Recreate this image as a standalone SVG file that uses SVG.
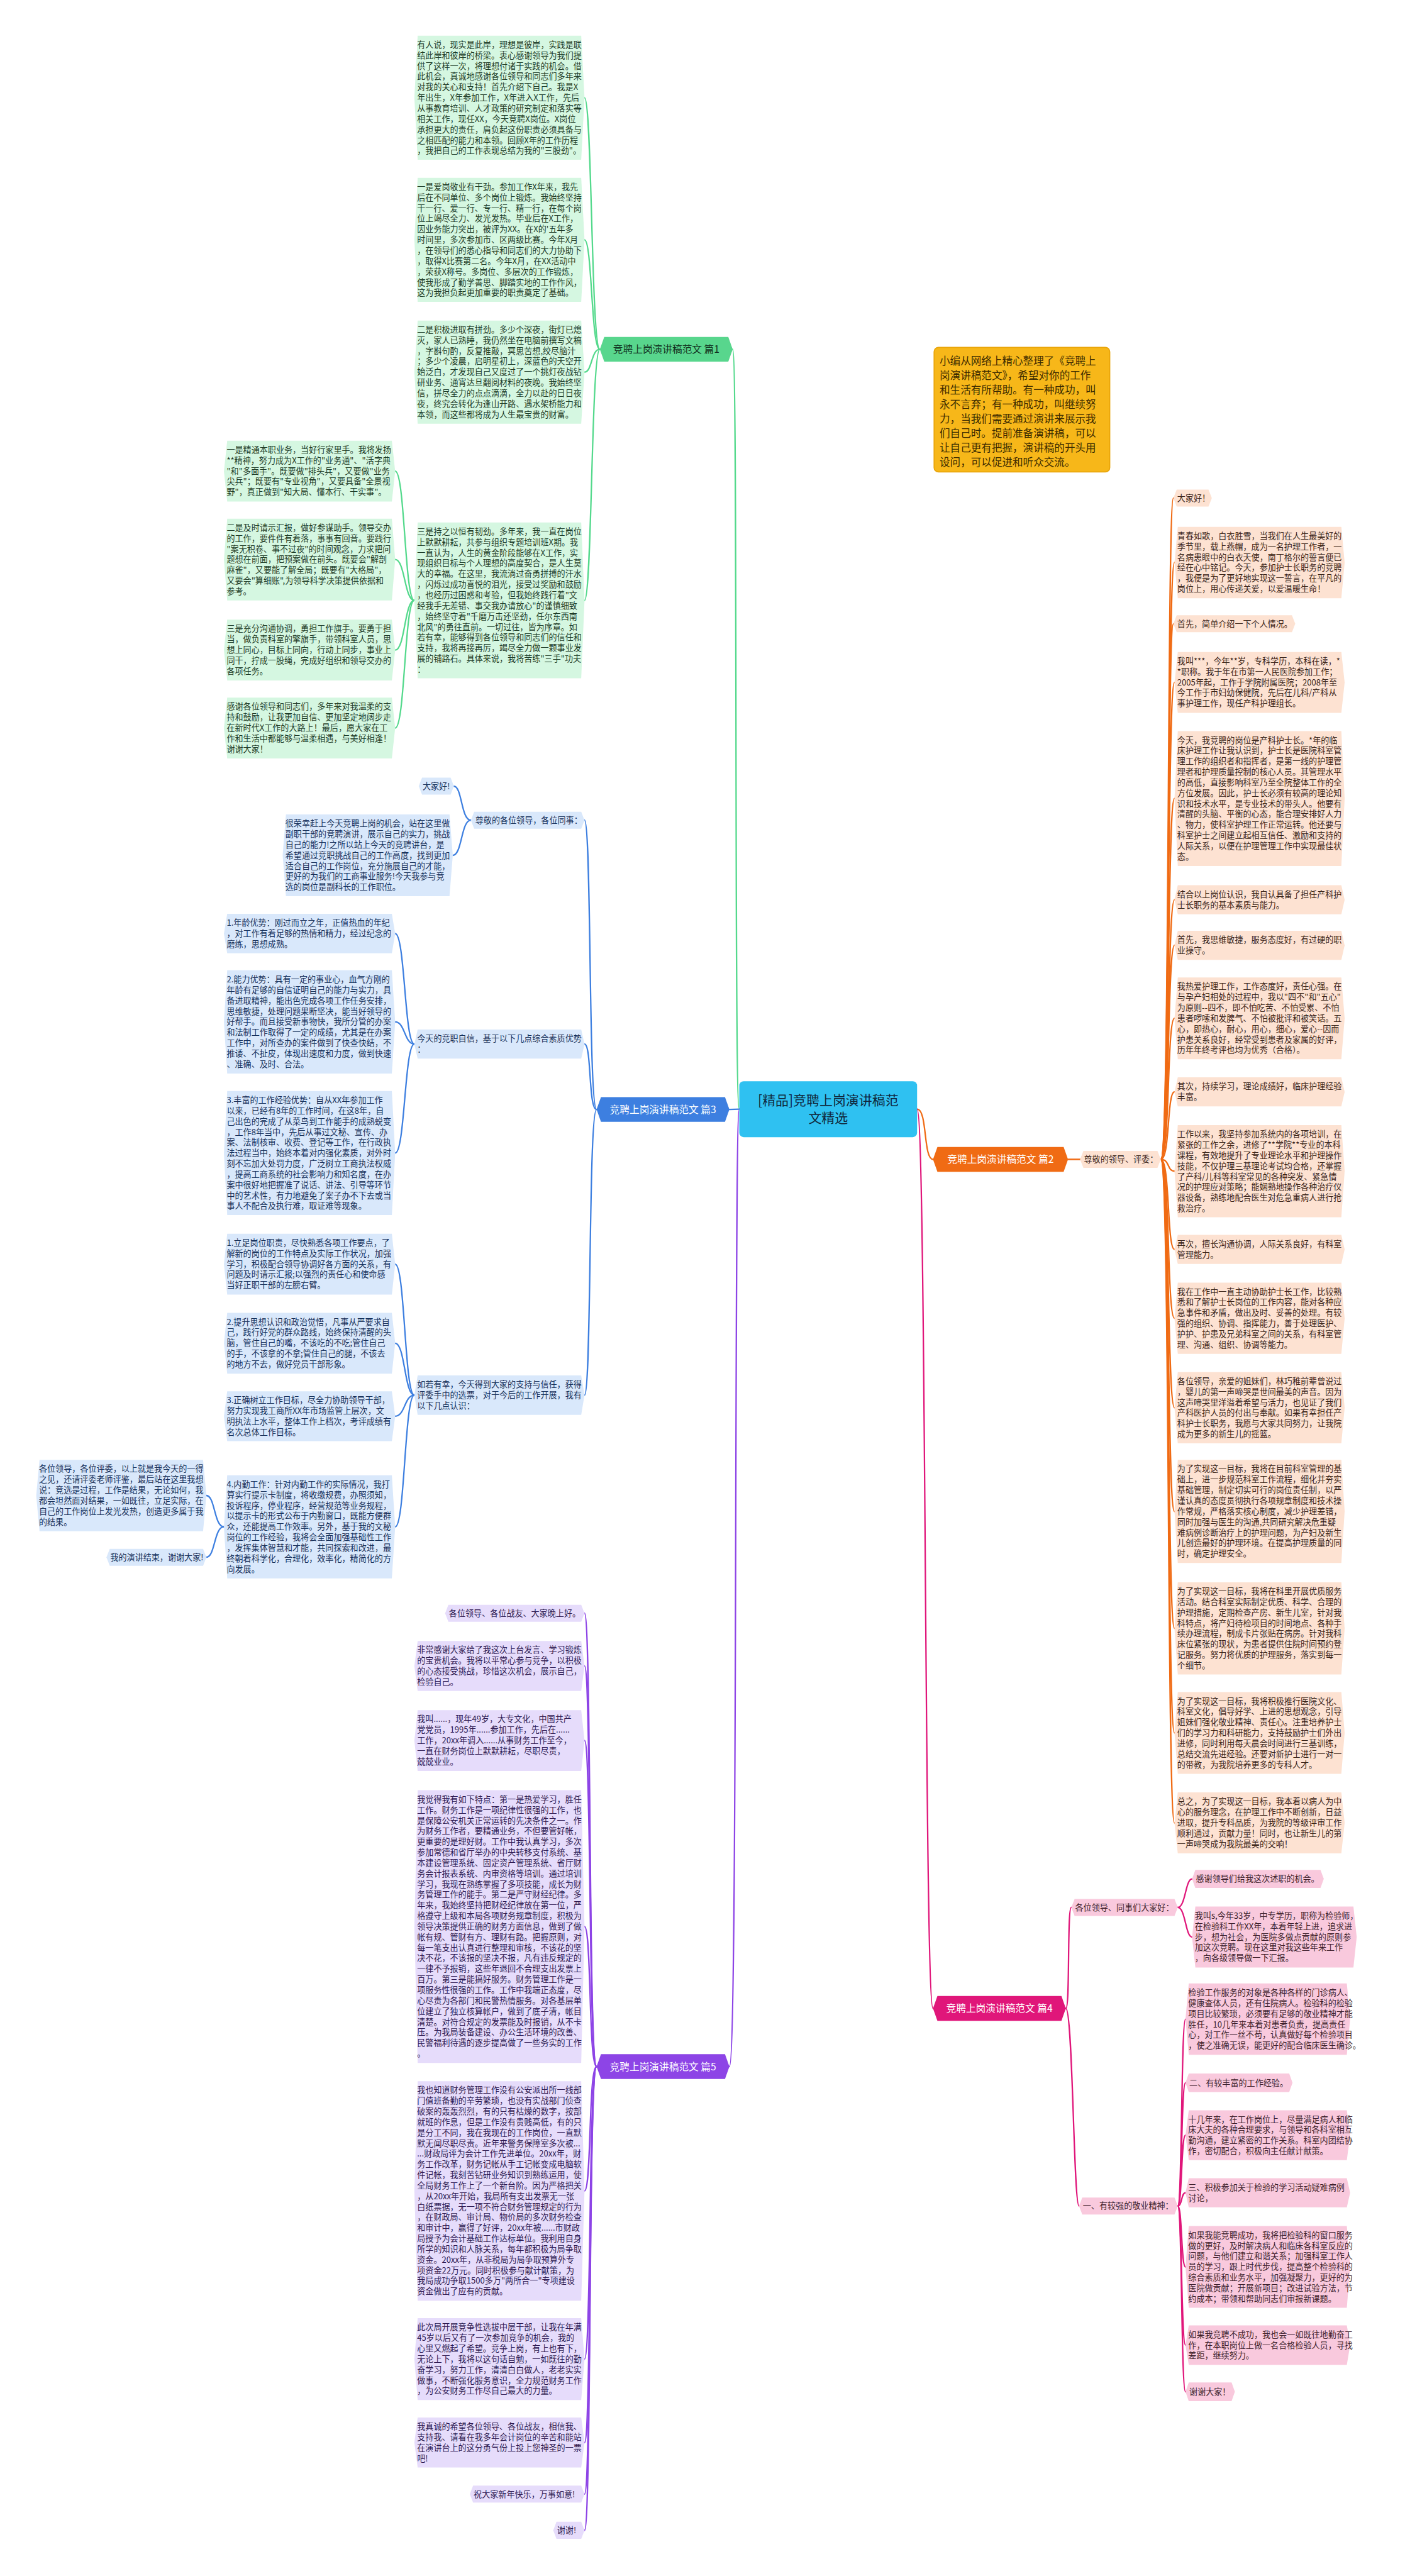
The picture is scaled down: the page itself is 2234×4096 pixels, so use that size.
<svg xmlns="http://www.w3.org/2000/svg" width="2234" height="4096" viewBox="0 0 2234 4096">
<style>
text{font-family:"Noto Sans CJK SC","Noto Sans",sans-serif;font-size:15px}
.tg{fill:#1d3b27}.tb{fill:#16305a}.tp{fill:#2e1a52}.to{fill:#3a2418}.tk{fill:#3d1f2c}
.ng{fill:#d5f7e1}.nb{fill:#d9e8fb}.np{fill:#e6dcfb}.no{fill:#fde2d2}.nk{fill:#f9c9dd}
.e{fill:none;stroke-width:2.6;stroke-linecap:round}
.eg{stroke:#54d98c}.eb{stroke:#3d7fe0}.ep{stroke:#8d44e6}.eo{stroke:#f06b14}.ek{stroke:#e0167a}
.br{font-size:18px;text-anchor:middle}
</style>
<rect x="0" y="0" width="2234" height="4096" fill="#ffffff"/>
<g transform="scale(0.87266)">
<g id="connectors">
<path class="e eg" d="M1347,2021 C1337,2021 1345,636.5 1335,636.5"/>
<path class="e eg" d="M1093,636.5 C1077,636.5 1079,178 1065,178"/>
<path class="e eg" d="M1093,636.5 C1077,636.5 1079,437 1065,437"/>
<path class="e eg" d="M1093,636.5 C1077,636.5 1079,678 1065,678"/>
<path class="e eg" d="M1093,636.5 C1077,636.5 1079,1094 1065,1094"/>
<path class="e eg" d="M755,1094 C737,1094 738,858.5 720,858.5"/>
<path class="e eg" d="M755,1094 C737,1094 738,1019.5 720,1019.5"/>
<path class="e eg" d="M755,1094 C737,1094 738,1184.5 720,1184.5"/>
<path class="e eg" d="M755,1094 C737,1094 738,1326.5 720,1326.5"/>
<path class="e eb" d="M1347,2021 L1329,2021.5"/>
<path class="e eb" d="M1087,2021.5 C1072,2021.5 1078,1494.5 1065,1494.5"/>
<path class="e eb" d="M1087,2021.5 C1072,2021.5 1078,1902.5 1065,1902.5"/>
<path class="e eb" d="M1087,2021.5 C1072,2021.5 1078,2542 1065,2542"/>
<path class="e eb" d="M858,1494.5 C840,1494.5 842,1432.5 827,1432.5"/>
<path class="e eb" d="M858,1494.5 C840,1494.5 842,1558.5 825,1558.5"/>
<path class="e eb" d="M755,1902.5 C737,1902.5 738,1701 720,1701"/>
<path class="e eb" d="M755,1902.5 C737,1902.5 738,1862 720,1862"/>
<path class="e eb" d="M755,1902.5 C737,1902.5 738,2101 720,2101"/>
<path class="e eb" d="M755,2542 C737,2542 738,2303.5 720,2303.5"/>
<path class="e eb" d="M755,2542 C737,2542 738,2447.5 720,2447.5"/>
<path class="e eb" d="M755,2542 C737,2542 738,2580.5 720,2580.5"/>
<path class="e eb" d="M755,2542 C737,2542 738,2782 720,2782"/>
<path class="e eb" d="M408,2782 C390,2782 392,2725 376,2725"/>
<path class="e eb" d="M408,2782 C390,2782 392,2837.5 376,2837.5"/>
<path class="e ep" d="M1347,2021 C1337,2021 1345,3765.5 1329,3765.5"/>
<path class="e ep" d="M1087,3765.5 C1072,3765.5 1078,2939.5 1065,2939.5"/>
<path class="e ep" d="M1087,3765.5 C1072,3765.5 1078,3035.5 1065,3035.5"/>
<path class="e ep" d="M1087,3765.5 C1072,3765.5 1078,3171.5 1065,3171.5"/>
<path class="e ep" d="M1087,3765.5 C1072,3765.5 1078,3510.5 1065,3510.5"/>
<path class="e ep" d="M1087,3765.5 C1072,3765.5 1078,3992 1065,3992"/>
<path class="e ep" d="M1087,3765.5 C1072,3765.5 1078,4298.5 1065,4298.5"/>
<path class="e ep" d="M1087,3765.5 C1072,3765.5 1078,4450.5 1065,4450.5"/>
<path class="e ep" d="M1087,3765.5 C1072,3765.5 1078,4544.5 1065,4544.5"/>
<path class="e ep" d="M1087,3765.5 C1072,3765.5 1078,4610.5 1065,4610.5"/>
<path class="e eo" d="M1671,2021 C1690,2021 1682,2112.5 1700,2112.5"/>
<path class="e eo" d="M1946,2112.5 L1968,2112.5"/>
<path class="e eo" d="M2115,2112.5 C2132,2112.5 2126,907.5 2138,907.5"/>
<path class="e eo" d="M2115,2112.5 C2132,2112.5 2126,1025 2140,1025"/>
<path class="e eo" d="M2115,2112.5 C2132,2112.5 2126,1136.5 2138,1136.5"/>
<path class="e eo" d="M2115,2112.5 C2132,2112.5 2126,1243.5 2140,1243.5"/>
<path class="e eo" d="M2115,2112.5 C2132,2112.5 2126,1455 2140,1455"/>
<path class="e eo" d="M2115,2112.5 C2132,2112.5 2126,1639.5 2140,1639.5"/>
<path class="e eo" d="M2115,2112.5 C2132,2112.5 2126,1722.5 2140,1722.5"/>
<path class="e eo" d="M2115,2112.5 C2132,2112.5 2126,1855.5 2140,1855.5"/>
<path class="e eo" d="M2115,2112.5 C2132,2112.5 2126,1989.5 2140,1989.5"/>
<path class="e eo" d="M2115,2112.5 C2132,2112.5 2126,2134 2140,2134"/>
<path class="e eo" d="M2115,2112.5 C2132,2112.5 2126,2276.5 2140,2276.5"/>
<path class="e eo" d="M2115,2112.5 C2132,2112.5 2126,2402 2140,2402"/>
<path class="e eo" d="M2115,2112.5 C2132,2112.5 2126,2565 2140,2565"/>
<path class="e eo" d="M2115,2112.5 C2132,2112.5 2126,2754 2140,2754"/>
<path class="e eo" d="M2115,2112.5 C2132,2112.5 2126,2967 2140,2967"/>
<path class="e eo" d="M2115,2112.5 C2132,2112.5 2126,3157.5 2140,3157.5"/>
<path class="e eo" d="M2115,2112.5 C2132,2112.5 2126,3321.5 2140,3321.5"/>
<path class="e ek" d="M1671,2021 C1688,2021 1684,3659.5 1700,3659.5"/>
<path class="e ek" d="M1942,3659.5 C1950,3659.5 1944,3475.5 1952,3475.5"/>
<path class="e ek" d="M1942,3659.5 C1955,3659.5 1956,4019.5 1966,4019.5"/>
<path class="e ek" d="M2146,3475.5 C2160,3475.5 2160,3423.5 2172,3423.5"/>
<path class="e ek" d="M2146,3475.5 C2160,3475.5 2160,3529.5 2172,3529.5"/>
<path class="e ek" d="M2146,4019.5 C2154,4019.5 2152,3679 2160,3679"/>
<path class="e ek" d="M2146,4019.5 C2154,4019.5 2152,3795 2160,3795"/>
<path class="e ek" d="M2146,4019.5 C2154,4019.5 2152,3890.5 2160,3890.5"/>
<path class="e ek" d="M2146,4019.5 C2154,4019.5 2152,3995.5 2160,3995.5"/>
<path class="e ek" d="M2146,4019.5 C2154,4019.5 2152,4130.5 2160,4130.5"/>
<path class="e ek" d="M2146,4019.5 C2154,4019.5 2152,4273 2160,4273"/>
<path class="e ek" d="M2146,4019.5 C2154,4019.5 2152,4358 2160,4358"/>
</g>

<g id="root">
<rect x="1347" y="1970" width="324" height="102" rx="8" fill="#2fc1f1"/>
<text x="1509" y="2013" text-anchor="middle" style="font-size:24px" fill="#10263a"><tspan x="1509">[精品]竞聘上岗演讲稿范</tspan><tspan x="1509" dy="32">文精选</tspan></text>
</g>

<g id="note">
<rect x="1702" y="633" width="320" height="227" rx="8" fill="#f7b719" stroke="#e9a50a" stroke-width="2"/>
<text x="1712" y="665" style="font-size:19px" fill="#3b2a00"><tspan x="1712">小编从网络上精心整理了《竞聘上</tspan><tspan x="1712" dy="26.3">岗演讲稿范文》，希望对你的工作</tspan><tspan x="1712" dy="26.3">和生活有所帮助。有一种成功，叫</tspan><tspan x="1712" dy="26.3">永不言弃；有一种成功，叫继续努</tspan><tspan x="1712" dy="26.3">力，当我们需要通过演讲来展示我</tspan><tspan x="1712" dy="26.3">们自己时。提前准备演讲稿，可以</tspan><tspan x="1712" dy="26.3">让自己更有把握，演讲稿的开头用</tspan><tspan x="1712" dy="26.3">设问，可以促进和听众交流。</tspan></text>
</g>

<!-- 篇1 -->
<g id="b1">
<polygon points="1101,614 1327,614 1335,636.5 1327,659 1101,659 1093,636.5" fill="#58d68d"/>
<text class="br" x="1214" y="643" fill="#123322">竞聘上岗演讲稿范文 篇1</text>
</g>
<g id="b1n1"><polygon class="ng" points="761,65 1059,65 1065,178 1059,291 761,291 755,178"/>
<text class="tg" x="760" y="87"><tspan x="760">有人说，现实是此岸，理想是彼岸，实践是联</tspan><tspan x="760" dy="19.3">结此岸和彼岸的桥梁。衷心感谢领导为我们提</tspan><tspan x="760" dy="19.3">供了这样一次，将理想付诸于实践的机会。借</tspan><tspan x="760" dy="19.3">此机会，真诚地感谢各位领导和同志们多年来</tspan><tspan x="760" dy="19.3">对我的关心和支持！首先介绍下自己。我是X</tspan><tspan x="760" dy="19.3">年出生，X年参加工作，X年进入X工作，先后</tspan><tspan x="760" dy="19.3">从事教育培训、人才政策的研究制定和落实等</tspan><tspan x="760" dy="19.3">相关工作，现任XX，今天竞聘X岗位。X岗位</tspan><tspan x="760" dy="19.3">承担更大的责任，肩负起这份职责必须具备与</tspan><tspan x="760" dy="19.3">之相匹配的能力和本领。回顾X年的工作历程</tspan><tspan x="760" dy="19.3">，我把自己的工作表现总结为我的"三股劲"。</tspan></text></g>
<g id="b1n2"><polygon class="ng" points="761,324 1059,324 1065,437 1059,550 761,550 755,437"/>
<text class="tg" x="760" y="346"><tspan x="760">一是爱岗敬业有干劲。参加工作X年来，我先</tspan><tspan x="760" dy="19.3">后在不同单位、多个岗位上锻炼。我始终坚持</tspan><tspan x="760" dy="19.3">干一行、爱一行、专一行、精一行，在每个岗</tspan><tspan x="760" dy="19.3">位上竭尽全力、发光发热。毕业后在X工作，</tspan><tspan x="760" dy="19.3">因业务能力突出，被评为XX。在X的'五年多</tspan><tspan x="760" dy="19.3">时间里，多次参加市、区两级比赛。今年X月</tspan><tspan x="760" dy="19.3">，在领导们的悉心指导和同志们的大力协助下</tspan><tspan x="760" dy="19.3">，取得X比赛第二名。今年X月，在XX活动中</tspan><tspan x="760" dy="19.3">，荣获X称号。多岗位、多层次的工作锻炼，</tspan><tspan x="760" dy="19.3">使我形成了勤学善思、脚踏实地的工作作风，</tspan><tspan x="760" dy="19.3">这为我担负起更加重要的职责奠定了基础。</tspan></text></g>
<g id="b1n3"><polygon class="ng" points="761,584 1059,584 1065,678 1059,772 761,772 755,678"/>
<text class="tg" x="760" y="606"><tspan x="760">二是积极进取有拼劲。多少个深夜，街灯已熄</tspan><tspan x="760" dy="19.3">灭，家人已熟睡，我仍然坐在电脑前撰写文稿</tspan><tspan x="760" dy="19.3">，字斟句酌，反复推敲，冥思苦想,绞尽脑汁</tspan><tspan x="760" dy="19.3">；多少个凌晨，启明星初上，深蓝色的天空开</tspan><tspan x="760" dy="19.3">始泛白，才发现自己又度过了一个挑灯夜战钻</tspan><tspan x="760" dy="19.3">研业务、通宵达旦翻阅材料的夜晚。我始终坚</tspan><tspan x="760" dy="19.3">信，拼尽全力的点点滴滴，全力以赴的日日夜</tspan><tspan x="760" dy="19.3">夜，终究会转化为逢山开路、遇水架桥能力和</tspan><tspan x="760" dy="19.3">本领，而这些都将成为人生最宝贵的财富。</tspan></text></g>
<g id="b1n4"><polygon class="ng" points="761,952 1059,952 1065,1094 1059,1236 761,1236 755,1094"/>
<text class="tg" x="760" y="974"><tspan x="760">三是持之以恒有韧劲。多年来，我一直在岗位</tspan><tspan x="760" dy="19.3">上默默耕耘，共参与组织专题培训班X期。我</tspan><tspan x="760" dy="19.3">一直认为，人生的黄金阶段能够在X工作，实</tspan><tspan x="760" dy="19.3">现组织目标与个人理想的高度契合，是人生莫</tspan><tspan x="760" dy="19.3">大的幸福。在这里，我流淌过奋勇拼搏的汗水</tspan><tspan x="760" dy="19.3">，闪烁过成功喜悦的泪光，接受过奖励和鼓励</tspan><tspan x="760" dy="19.3">，也经历过困惑和考验，但我始终践行着"文</tspan><tspan x="760" dy="19.3">经我手无差错、事交我办请放心"的谨慎细致</tspan><tspan x="760" dy="19.3">，始终坚守着"千磨万击还坚劲，任尔东西南</tspan><tspan x="760" dy="19.3">北风"的勇往直前。一切过往，皆为序章。如</tspan><tspan x="760" dy="19.3">若有幸，能够得到各位领导和同志们的信任和</tspan><tspan x="760" dy="19.3">支持，我将再接再厉，竭尽全力做一颗事业发</tspan><tspan x="760" dy="19.3">展的铺路石。具体来说，我将苦练"三手"功夫</tspan><tspan x="760" dy="19.3">：</tspan></text></g>
<g id="b1n4a"><polygon class="ng" points="414,803 714,803 720,858.5 714,914 414,914 408,858.5"/>
<text class="tg" x="413" y="825"><tspan x="413">一是精通本职业务，当好行家里手。我将发扬</tspan><tspan x="413" dy="19.3">**精神，努力成为X工作的"业务通"、"活字典</tspan><tspan x="413" dy="19.3">"和"多面手"。既要做"排头兵"，又要做"业务</tspan><tspan x="413" dy="19.3">尖兵"；既要有"专业视角"，又要具备"全景视</tspan><tspan x="413" dy="19.3">野"，真正做到"知大局、懂本行、干实事"。</tspan></text></g>
<g id="b1n4b"><polygon class="ng" points="414,945 714,945 720,1019.5 714,1094 414,1094 408,1019.5"/>
<text class="tg" x="413" y="967"><tspan x="413">二是及时请示汇报，做好参谋助手。领导交办</tspan><tspan x="413" dy="19.3">的工作，要件件有着落，事事有回音。要践行</tspan><tspan x="413" dy="19.3">"案无积卷、事不过夜"的时间观念，力求把问</tspan><tspan x="413" dy="19.3">题想在前面，把预案做在前头。既要会"解剖</tspan><tspan x="413" dy="19.3">麻雀"，又要能了解全局；既要有"大格局"，</tspan><tspan x="413" dy="19.3">又要会"算细账",为领导科学决策提供依据和</tspan><tspan x="413" dy="19.3">参考。</tspan></text></g>
<g id="b1n4c"><polygon class="ng" points="414,1129 714,1129 720,1184.5 714,1240 414,1240 408,1184.5"/>
<text class="tg" x="413" y="1151"><tspan x="413">三是充分沟通协调，勇担工作旗手。要勇于担</tspan><tspan x="413" dy="19.3">当，做负责科室的擎旗手，带领科室人员，思</tspan><tspan x="413" dy="19.3">想上同心，目标上同向，行动上同步，事业上</tspan><tspan x="413" dy="19.3">同干，拧成一股绳，完成好组织和领导交办的</tspan><tspan x="413" dy="19.3">各项任务。</tspan></text></g>
<g id="b1n4d"><polygon class="ng" points="414,1271 714,1271 720,1326.5 714,1382 414,1382 408,1326.5"/>
<text class="tg" x="413" y="1293"><tspan x="413">感谢各位领导和同志们，多年来对我温柔的支</tspan><tspan x="413" dy="19.3">持和鼓励，让我更加自信、更加坚定地阔步走</tspan><tspan x="413" dy="19.3">在新时代X工作的大路上！最后，愿大家在工</tspan><tspan x="413" dy="19.3">作和生活中都能够与温柔相遇，与美好相逢！</tspan><tspan x="413" dy="19.3">谢谢大家！</tspan></text></g>

<!-- 篇3 -->
<g id="b3">
<polygon points="1095,1999 1321,1999 1329,2021.5 1321,2044 1095,2044 1087,2021.5" fill="#3d7fe0"/>
<text class="br" x="1208" y="2028" fill="#ffffff">竞聘上岗演讲稿范文 篇3</text>
</g>
<g id="b3a"><polygon class="nb" points="864,1479 1059,1479 1065,1494.5 1059,1510 864,1510 858,1494.5"/>
<text class="tb" x="866" y="1500">尊敬的各位领导，各位同事：</text></g>
<g id="b3a1"><polygon class="nb" points="769,1417 821,1417 827,1432.5 821,1448 769,1448 763,1432.5"/>
<text class="tb" x="770" y="1438">大家好!</text></g>
<g id="b3a2"><polygon class="nb" points="521,1484 819,1484 825,1558.5 819,1633 521,1633 515,1558.5"/>
<text class="tb" x="520" y="1506"><tspan x="520">很荣幸赶上今天竞聘上岗的机会，站在这里做</tspan><tspan x="520" dy="19.3">副职干部的竞聘演讲，展示自己的实力，挑战</tspan><tspan x="520" dy="19.3">自己的能力!之所以站上今天的竞聘讲台，是</tspan><tspan x="520" dy="19.3">希望通过竞职挑战自己的工作高度，找到更加</tspan><tspan x="520" dy="19.3">适合自己的工作岗位，充分施展自己的才能，</tspan><tspan x="520" dy="19.3">更好的为我们的工商事业服务!今天我参与竞</tspan><tspan x="520" dy="19.3">选的岗位是副科长的工作职位。</tspan></text></g>
<g id="b3b"><polygon class="nb" points="761,1876 1059,1876 1065,1902.5 1059,1929 761,1929 755,1902.5"/>
<text class="tb" x="760" y="1898"><tspan x="760">今天的竞职自信，基于以下几点综合素质优势</tspan><tspan x="760" dy="19.3">：</tspan></text></g>
<g id="b3b1"><polygon class="nb" points="414,1665 714,1665 720,1701 714,1737 414,1737 408,1701"/>
<text class="tb" x="413" y="1687"><tspan x="413">1.年龄优势：刚过而立之年，正值热血的年纪</tspan><tspan x="413" dy="19.3">，对工作有着足够的热情和精力，经过纪念的</tspan><tspan x="413" dy="19.3">磨练，思想成熟。</tspan></text></g>
<g id="b3b2"><polygon class="nb" points="414,1768 714,1768 720,1862 714,1956 414,1956 408,1862"/>
<text class="tb" x="413" y="1790"><tspan x="413">2.能力优势：具有一定的事业心，血气方刚的</tspan><tspan x="413" dy="19.3">年龄有足够的自信证明自己的能力与实力，具</tspan><tspan x="413" dy="19.3">备进取精神，能出色完成各项工作任务安排，</tspan><tspan x="413" dy="19.3">思维敏捷，处理问题果断坚决，能当好领导的</tspan><tspan x="413" dy="19.3">好帮手。而且接受新事物快，我所分管的办案</tspan><tspan x="413" dy="19.3">和法制工作取得了一定的成绩，尤其是在办案</tspan><tspan x="413" dy="19.3">工作中，对所查办的案件做到了快查快结，不</tspan><tspan x="413" dy="19.3">推诿、不扯皮，体现出速度和力度，做到快速</tspan><tspan x="413" dy="19.3">、准确、及时、合法。</tspan></text></g>
<g id="b3b3"><polygon class="nb" points="414,1988 714,1988 720,2101 714,2214 414,2214 408,2101"/>
<text class="tb" x="413" y="2010"><tspan x="413">3.丰富的工作经验优势：自从XX年参加工作</tspan><tspan x="413" dy="19.3">以来，已经有8年的工作时间，在这8年，自</tspan><tspan x="413" dy="19.3">己出色的完成了从菜鸟到工作能手的成熟蜕变</tspan><tspan x="413" dy="19.3">，工作8年当中，先后从事过文秘、宣传、办</tspan><tspan x="413" dy="19.3">案、法制核审、收费、登记等工作，在行政执</tspan><tspan x="413" dy="19.3">法过程当中，始终本着对内强化素质，对外时</tspan><tspan x="413" dy="19.3">刻不忘加大处罚力度，广泛树立工商执法权威</tspan><tspan x="413" dy="19.3">，提高工商系统的社会影响力和知名度，在办</tspan><tspan x="413" dy="19.3">案中很好地把握准了说话、讲法、引导等环节</tspan><tspan x="413" dy="19.3">中的艺术性，有力地避免了案子办不下去或当</tspan><tspan x="413" dy="19.3">事人不配合及执行难，取证难等现象。</tspan></text></g>
<g id="b3c"><polygon class="nb" points="761,2506 1059,2506 1065,2542 1059,2578 761,2578 755,2542"/>
<text class="tb" x="760" y="2528"><tspan x="760">如若有幸，今天得到大家的支持与信任，获得</tspan><tspan x="760" dy="19.3">评委手中的选票，对于今后的工作开展，我有</tspan><tspan x="760" dy="19.3">以下几点认识：</tspan></text></g>
<g id="b3c1"><polygon class="nb" points="414,2248 714,2248 720,2303.5 714,2359 414,2359 408,2303.5"/>
<text class="tb" x="413" y="2270"><tspan x="413">1.立足岗位职责，尽快熟悉各项工作要点，了</tspan><tspan x="413" dy="19.3">解新的岗位的工作特点及实际工作状况，加强</tspan><tspan x="413" dy="19.3">学习，积极配合领导协调好各方面的关系，有</tspan><tspan x="413" dy="19.3">问题及时请示汇报;以强烈的责任心和使命感</tspan><tspan x="413" dy="19.3">当好正职干部的左膀右臂。</tspan></text></g>
<g id="b3c2"><polygon class="nb" points="414,2392 714,2392 720,2447.5 714,2503 414,2503 408,2447.5"/>
<text class="tb" x="413" y="2414"><tspan x="413">2.提升思想认识和政治觉悟，凡事从严要求自</tspan><tspan x="413" dy="19.3">己，践行好党的群众路线，始终保持清醒的头</tspan><tspan x="413" dy="19.3">脑，管住自己的嘴，不该吃的不吃;管住自己</tspan><tspan x="413" dy="19.3">的手，不该拿的不拿;管住自己的腿，不该去</tspan><tspan x="413" dy="19.3">的地方不去，做好党员干部形象。</tspan></text></g>
<g id="b3c3"><polygon class="nb" points="414,2535 714,2535 720,2580.5 714,2626 414,2626 408,2580.5"/>
<text class="tb" x="413" y="2557"><tspan x="413">3.正确树立工作目标，尽全力协助领导干部，</tspan><tspan x="413" dy="19.3">努力实现我工商所XX年市场监管上层次，文</tspan><tspan x="413" dy="19.3">明执法上水平，整体工作上档次，考评成绩有</tspan><tspan x="413" dy="19.3">名次总体工作目标。</tspan></text></g>
<g id="b3c4"><polygon class="nb" points="414,2688 714,2688 720,2782 714,2876 414,2876 408,2782"/>
<text class="tb" x="413" y="2710"><tspan x="413">4.内勤工作：针对内勤工作的实际情况，我打</tspan><tspan x="413" dy="19.3">算实行提示卡制度，将收缴规费，办照须知，</tspan><tspan x="413" dy="19.3">投诉程序，停业程序，经营规范等业务规程，</tspan><tspan x="413" dy="19.3">以提示卡的形式公布于内勤窗口，既能方便群</tspan><tspan x="413" dy="19.3">众，还能提高工作效率。另外，基于我的文秘</tspan><tspan x="413" dy="19.3">岗位的工作经验，我将会全面加强基础性工作</tspan><tspan x="413" dy="19.3">，发挥集体智慧和才能，共同探索和改进，最</tspan><tspan x="413" dy="19.3">终朝着科学化，合理化，效率化，精简化的方</tspan><tspan x="413" dy="19.3">向发展。</tspan></text></g>
<g id="b3c4a"><polygon class="nb" points="72,2660 370,2660 376,2725 370,2790 72,2790 66,2725"/>
<text class="tb" x="71" y="2682"><tspan x="71">各位领导，各位评委，以上就是我今天的一得</tspan><tspan x="71" dy="19.3">之见，还请评委老师评鉴，最后站在这里我想</tspan><tspan x="71" dy="19.3">说：竞选是过程，工作是结果，无论如何，我</tspan><tspan x="71" dy="19.3">都会坦然面对结果，一如既往，立足实际，在</tspan><tspan x="71" dy="19.3">自己的工作岗位上发光发热，创造更多属于我</tspan><tspan x="71" dy="19.3">的结果。</tspan></text></g>
<g id="b3c4b"><polygon class="nb" points="200,2822 370,2822 376,2837.5 370,2853 200,2853 194,2837.5"/>
<text class="tb" x="201" y="2843">我的演讲结束，谢谢大家!</text></g>

<!-- 篇5 -->
<g id="b5">
<polygon points="1095,3743 1321,3743 1329,3765.5 1321,3788 1095,3788 1087,3765.5" fill="#8d44e6"/>
<text class="br" x="1208" y="3772" fill="#ffffff">竞聘上岗演讲稿范文 篇5</text>
</g>
<g id="b5n1"><polygon class="np" points="817,2924 1059,2924 1065,2939.5 1059,2955 817,2955 811,2939.5"/>
<text class="tp" x="818" y="2945">各位领导、各位战友、大家晚上好。</text></g>
<g id="b5n2"><polygon class="np" points="761,2990 1059,2990 1065,3035.5 1059,3081 761,3081 755,3035.5"/>
<text class="tp" x="760" y="3012"><tspan x="760">非常感谢大家给了我这次上台发言、学习锻炼</tspan><tspan x="760" dy="19.3">的宝贵机会。我将以平常心参与竞争，以积极</tspan><tspan x="760" dy="19.3">的心态接受挑战，珍惜这次机会，展示自己，</tspan><tspan x="760" dy="19.3">检验自己。</tspan></text></g>
<g id="b5n3"><polygon class="np" points="761,3116 1059,3116 1065,3171.5 1059,3227 761,3227 755,3171.5"/>
<text class="tp" x="760" y="3138"><tspan x="760">我叫......，现年49岁，大专文化，中国共产</tspan><tspan x="760" dy="19.3">党党员，1995年......参加工作，先后在......</tspan><tspan x="760" dy="19.3">工作，20xx年调入......从事财务工作至今，</tspan><tspan x="760" dy="19.3">一直在财务岗位上默默耕耘，尽职尽责，</tspan><tspan x="760" dy="19.3">兢兢业业。</tspan></text></g>
<g id="b5n4"><polygon class="np" points="761,3262 1059,3262 1065,3510.5 1059,3759 761,3759 755,3510.5"/>
<text class="tp" x="760" y="3284"><tspan x="760">我觉得我有如下特点：第一是热爱学习，胜任</tspan><tspan x="760" dy="19.3">工作。财务工作是一项纪律性很强的工作，也</tspan><tspan x="760" dy="19.3">是保障公安机关正常运转的先决条件之一。作</tspan><tspan x="760" dy="19.3">为财务工作者，要精通业务，不但要管好帐，</tspan><tspan x="760" dy="19.3">更重要的是理好财。工作中我认真学习，多次</tspan><tspan x="760" dy="19.3">参加常德和省厅举办的中央转移支付系统、基</tspan><tspan x="760" dy="19.3">本建设管理系统、固定资产管理系统、省厅财</tspan><tspan x="760" dy="19.3">务会计报表系统、内审资格等培训。通过培训</tspan><tspan x="760" dy="19.3">学习，我现在熟练掌握了多项技能，成长为财</tspan><tspan x="760" dy="19.3">务管理工作的能手。第二是严守财经纪律。多</tspan><tspan x="760" dy="19.3">年来，我始终坚持把财经纪律放在第一位，严</tspan><tspan x="760" dy="19.3">格遵守上级和本局各项财务规章制度，积极为</tspan><tspan x="760" dy="19.3">领导决策提供正确的财务方面信息，做到了做</tspan><tspan x="760" dy="19.3">帐有规、管财有方、理财有路。把握原则，对</tspan><tspan x="760" dy="19.3">每一笔支出认真进行整理和审核，不该花的坚</tspan><tspan x="760" dy="19.3">决不花，不该报的坚决不报，凡有违反规定的</tspan><tspan x="760" dy="19.3">一律不予报销，这些年退回不合理支出发票上</tspan><tspan x="760" dy="19.3">百万。第三是能搞好服务。财务管理工作是一</tspan><tspan x="760" dy="19.3">项服务性很强的工作。工作中我端正态度，尽</tspan><tspan x="760" dy="19.3">心尽责为各部门和民警热情服务。对各基层单</tspan><tspan x="760" dy="19.3">位建立了独立核算帐户，做到了底子清，帐目</tspan><tspan x="760" dy="19.3">清楚。对符合规定的发票能及时报销，从不卡</tspan><tspan x="760" dy="19.3">压。为我局装备建设、办公生活环境的改善、</tspan><tspan x="760" dy="19.3">民警福利待遇的逐步提高做了一些务实的工作</tspan><tspan x="760" dy="19.3">。</tspan></text></g>
<g id="b5n5"><polygon class="np" points="761,3792 1059,3792 1065,3992 1059,4192 761,4192 755,3992"/>
<text class="tp" x="760" y="3814"><tspan x="760">我也知道财务管理工作没有公安派出所一线部</tspan><tspan x="760" dy="19.3">门值班备勤的辛劳繁琐，也没有实战部门侦查</tspan><tspan x="760" dy="19.3">破案的轰轰烈烈，有的只有枯燥的数字，按部</tspan><tspan x="760" dy="19.3">就班的作息，但是工作没有贵贱高低，有的只</tspan><tspan x="760" dy="19.3">是分工不同，我在我现在的工作岗位，一直默</tspan><tspan x="760" dy="19.3">默无闻尽职尽责。近年来警务保障室多次被...</tspan><tspan x="760" dy="19.3">...财政局评为会计工作先进单位。20xx年，财</tspan><tspan x="760" dy="19.3">务工作改革，财务记帐从手工记帐变成电脑软</tspan><tspan x="760" dy="19.3">件记帐，我刻苦钻研业务知识到熟练运用，使</tspan><tspan x="760" dy="19.3">全局财务工作上了一个新台阶。因为严格把关</tspan><tspan x="760" dy="19.3">，从20xx年开始，我局所有支出发票无一张</tspan><tspan x="760" dy="19.3">白纸票据，无一项不符合财务管理规定的行为</tspan><tspan x="760" dy="19.3">，在财政局、审计局、物价局的多次财务检查</tspan><tspan x="760" dy="19.3">和审计中，赢得了好评，20xx年被......市财政</tspan><tspan x="760" dy="19.3">局授予为会计基础工作达标单位。我利用自身</tspan><tspan x="760" dy="19.3">所学的知识和人脉关系，每年都积极为局争取</tspan><tspan x="760" dy="19.3">资金。20xx年，从非税局为局争取预算外专</tspan><tspan x="760" dy="19.3">项资金22万元。同时积极参与献计献策，为</tspan><tspan x="760" dy="19.3">我局成功争取1500多万"两所合一"专项建设</tspan><tspan x="760" dy="19.3">资金做出了应有的贡献。</tspan></text></g>
<g id="b5n6"><polygon class="np" points="761,4224 1059,4224 1065,4298.5 1059,4373 761,4373 755,4298.5"/>
<text class="tp" x="760" y="4246"><tspan x="760">此次局开展竞争性选拔中层干部，让我在年满</tspan><tspan x="760" dy="19.3">45岁以后又有了一次参加竞争的机会，我的</tspan><tspan x="760" dy="19.3">心里又燃起了希望。竞争上岗，有上也有下，</tspan><tspan x="760" dy="19.3">无论上下，我将以这句话自勉，一如既往的勤</tspan><tspan x="760" dy="19.3">奋学习，努力工作，清清白白做人，老老实实</tspan><tspan x="760" dy="19.3">做事，不断强化服务意识，全力规范财务工作</tspan><tspan x="760" dy="19.3">，为公安财务工作尽自己最大的力量。</tspan></text></g>
<g id="b5n7"><polygon class="np" points="761,4405 1059,4405 1065,4450.5 1059,4496 761,4496 755,4450.5"/>
<text class="tp" x="760" y="4427"><tspan x="760">我真诚的希望各位领导、各位战友，相信我、</tspan><tspan x="760" dy="19.3">支持我、请看在我多年会计岗位的辛苦和能站</tspan><tspan x="760" dy="19.3">在演讲台上的这分勇气份上投上您神圣的一票</tspan><tspan x="760" dy="19.3">吧!</tspan></text></g>
<g id="b5n8"><polygon class="np" points="862,4529 1059,4529 1065,4544.5 1059,4560 862,4560 856,4544.5"/>
<text class="tp" x="863" y="4550">祝大家新年快乐，万事如意!</text></g>
<g id="b5n9"><polygon class="np" points="1014,4595 1059,4595 1065,4610.5 1059,4626 1014,4626 1008,4610.5"/>
<text class="tp" x="1015" y="4616">谢谢!</text></g>

<!-- 篇2 -->
<g id="b2">
<polygon points="1708,2090 1938,2090 1946,2112.5 1938,2135 1708,2135 1700,2112.5" fill="#f06b14"/>
<text class="br" x="1823" y="2119" fill="#ffffff">竞聘上岗演讲稿范文 篇2</text>
</g>
<g id="b2a"><polygon class="no" points="1974,2097 2109,2097 2115,2112.5 2109,2128 1974,2128 1968,2112.5"/>
<text class="to" x="1975" y="2118">尊敬的领导、评委：</text></g>
<g id="b2n1"><polygon class="no" points="2144,892 2202,892 2208,907.5 2202,923 2144,923 2138,907.5"/>
<text class="to" x="2145" y="913">大家好！</text></g>
<g id="b2n2"><polygon class="no" points="2146,960 2444,960 2450,1025 2444,1090 2146,1090 2140,1025"/>
<text class="to" x="2145" y="982"><tspan x="2145">青春如歌，白衣胜雪，当我们在人生最美好的</tspan><tspan x="2145" dy="19.3">季节里，载上燕帽，成为一名护理工作者，一</tspan><tspan x="2145" dy="19.3">名病患眼中的白衣天使，南丁格尔的誓言便已</tspan><tspan x="2145" dy="19.3">经在心中铭记。今天，参加护士长职务的竞聘</tspan><tspan x="2145" dy="19.3">，我便是为了更好地实现这一誓言，在平凡的</tspan><tspan x="2145" dy="19.3">岗位上，用心传递关爱，以爱温暖生命！</tspan></text></g>
<g id="b2n3"><polygon class="no" points="2144,1121 2354,1121 2360,1136.5 2354,1152 2144,1152 2138,1136.5"/>
<text class="to" x="2145" y="1142">首先，简单介绍一下个人情况。</text></g>
<g id="b2n4"><polygon class="no" points="2146,1188 2444,1188 2450,1243.5 2444,1299 2146,1299 2140,1243.5"/>
<text class="to" x="2145" y="1210"><tspan x="2145">我叫***，今年**岁，专科学历，本科在读，*</tspan><tspan x="2145" dy="19.3">*职称。我于年在市第一人民医院参加工作；</tspan><tspan x="2145" dy="19.3">2005年起，工作于学院附属医院；2008年至</tspan><tspan x="2145" dy="19.3">今工作于市妇幼保健院，先后在儿科/产科从</tspan><tspan x="2145" dy="19.3">事护理工作，现任产科护理组长。</tspan></text></g>
<g id="b2n5"><polygon class="no" points="2146,1332 2444,1332 2450,1455 2444,1578 2146,1578 2140,1455"/>
<text class="to" x="2145" y="1354"><tspan x="2145">今天，我竞聘的岗位是产科护士长。*年的临</tspan><tspan x="2145" dy="19.3">床护理工作让我认识到，护士长是医院科室管</tspan><tspan x="2145" dy="19.3">理工作的组织者和指挥者，是第一线的护理管</tspan><tspan x="2145" dy="19.3">理者和护理质量控制的核心人员。其管理水平</tspan><tspan x="2145" dy="19.3">的高低，直接影响科室乃至全院整体工作的全</tspan><tspan x="2145" dy="19.3">方位发展。因此，护士长必须有较高的理论知</tspan><tspan x="2145" dy="19.3">识和技术水平，是专业技术的带头人。他要有</tspan><tspan x="2145" dy="19.3">清醒的头脑、平衡的心态，能合理安排好人力</tspan><tspan x="2145" dy="19.3">、物力，使科室护理工作正常运转。他还要与</tspan><tspan x="2145" dy="19.3">科室护士之间建立起相互信任、激励和支持的</tspan><tspan x="2145" dy="19.3">人际关系，以便在护理管理工作中实现最佳状</tspan><tspan x="2145" dy="19.3">态。</tspan></text></g>
<g id="b2n6"><polygon class="no" points="2146,1613 2444,1613 2450,1639.5 2444,1666 2146,1666 2140,1639.5"/>
<text class="to" x="2145" y="1635"><tspan x="2145">结合以上岗位认识，我自认具备了担任产科护</tspan><tspan x="2145" dy="19.3">士长职务的基本素质与能力。</tspan></text></g>
<g id="b2n7"><polygon class="no" points="2146,1696 2444,1696 2450,1722.5 2444,1749 2146,1749 2140,1722.5"/>
<text class="to" x="2145" y="1718"><tspan x="2145">首先，我思维敏捷，服务态度好，有过硬的职</tspan><tspan x="2145" dy="19.3">业操守。</tspan></text></g>
<g id="b2n8"><polygon class="no" points="2146,1781 2444,1781 2450,1855.5 2444,1930 2146,1930 2140,1855.5"/>
<text class="to" x="2145" y="1803"><tspan x="2145">我热爱护理工作，工作态度好，责任心强。在</tspan><tspan x="2145" dy="19.3">与孕产妇相处的过程中，我以"四不"和"五心"</tspan><tspan x="2145" dy="19.3">为原则--四不，即不怕吃苦、不怕受累、不怕</tspan><tspan x="2145" dy="19.3">患者啰嗦和发脾气、不怕被批评和被笑话。五</tspan><tspan x="2145" dy="19.3">心，即热心，耐心，用心，细心，爱心--因而</tspan><tspan x="2145" dy="19.3">护患关系良好，经常受到患者及家属的好评，</tspan><tspan x="2145" dy="19.3">历年年终考评也均为优秀（合格）。</tspan></text></g>
<g id="b2n9"><polygon class="no" points="2146,1963 2444,1963 2450,1989.5 2444,2016 2146,2016 2140,1989.5"/>
<text class="to" x="2145" y="1985"><tspan x="2145">其次，持续学习，理论成绩好，临床护理经验</tspan><tspan x="2145" dy="19.3">丰富。</tspan></text></g>
<g id="b2n10"><polygon class="no" points="2146,2050 2444,2050 2450,2134 2444,2218 2146,2218 2140,2134"/>
<text class="to" x="2145" y="2072"><tspan x="2145">工作以来，我坚持参加系统内的各项培训，在</tspan><tspan x="2145" dy="19.3">紧张的工作之余，进修了**学院**专业的本科</tspan><tspan x="2145" dy="19.3">课程，有效地提升了专业理论水平和护理操作</tspan><tspan x="2145" dy="19.3">技能，不仅护理三基理论考试均合格，还掌握</tspan><tspan x="2145" dy="19.3">了产科/儿科等科室常见的各种突发、紧急情</tspan><tspan x="2145" dy="19.3">况的护理应对策略；能娴熟地操作各种治疗仪</tspan><tspan x="2145" dy="19.3">器设备，熟练地配合医生对危急重病人进行抢</tspan><tspan x="2145" dy="19.3">救治疗。</tspan></text></g>
<g id="b2n11"><polygon class="no" points="2146,2250 2444,2250 2450,2276.5 2444,2303 2146,2303 2140,2276.5"/>
<text class="to" x="2145" y="2272"><tspan x="2145">再次，擅长沟通协调，人际关系良好，有科室</tspan><tspan x="2145" dy="19.3">管理能力。</tspan></text></g>
<g id="b2n12"><polygon class="no" points="2146,2337 2444,2337 2450,2402 2444,2467 2146,2467 2140,2402"/>
<text class="to" x="2145" y="2359"><tspan x="2145">我在工作中一直主动协助护士长工作，比较熟</tspan><tspan x="2145" dy="19.3">悉和了解护士长岗位的工作内容，能对各种应</tspan><tspan x="2145" dy="19.3">急事件和矛盾，做出及时、妥善的处理。有较</tspan><tspan x="2145" dy="19.3">强的组织、协调、指挥能力，善于处理医护、</tspan><tspan x="2145" dy="19.3">护护、护患及兄弟科室之间的关系，有科室管</tspan><tspan x="2145" dy="19.3">理、沟通、组织、协调等能力。</tspan></text></g>
<g id="b2n13"><polygon class="no" points="2146,2500 2444,2500 2450,2565 2444,2630 2146,2630 2140,2565"/>
<text class="to" x="2145" y="2522"><tspan x="2145">各位领导，亲爱的姐妹们，林巧稚前辈曾说过</tspan><tspan x="2145" dy="19.3">，婴儿的第一声啼哭是世间最美的声音。因为</tspan><tspan x="2145" dy="19.3">这声啼哭里洋溢着希望与活力，也见证了我们</tspan><tspan x="2145" dy="19.3">产科医护人员的付出与奉献。如果有幸担任产</tspan><tspan x="2145" dy="19.3">科护士长职务，我愿与大家共同努力，让我院</tspan><tspan x="2145" dy="19.3">成为更多的新生儿的摇篮。</tspan></text></g>
<g id="b2n14"><polygon class="no" points="2146,2660 2444,2660 2450,2754 2444,2848 2146,2848 2140,2754"/>
<text class="to" x="2145" y="2682"><tspan x="2145">为了实现这一目标，我将在目前科室管理的基</tspan><tspan x="2145" dy="19.3">础上，进一步规范科室工作流程，细化并夯实</tspan><tspan x="2145" dy="19.3">基础管理，制定切实可行的岗位责任制，以严</tspan><tspan x="2145" dy="19.3">谨认真的态度贯彻执行各项规章制度和技术操</tspan><tspan x="2145" dy="19.3">作常规，严格落实核心制度，减少护理差错，</tspan><tspan x="2145" dy="19.3">同时加强与医生的沟通,共同研究解决危重疑</tspan><tspan x="2145" dy="19.3">难病例诊断治疗上的护理问题，为产妇及新生</tspan><tspan x="2145" dy="19.3">儿创造最好的护理环境。在提高护理质量的同</tspan><tspan x="2145" dy="19.3">时，确定护理安全。</tspan></text></g>
<g id="b2n15"><polygon class="no" points="2146,2883 2444,2883 2450,2967 2444,3051 2146,3051 2140,2967"/>
<text class="to" x="2145" y="2905"><tspan x="2145">为了实现这一目标，我将在科里开展优质服务</tspan><tspan x="2145" dy="19.3">活动。结合科室实际制定优质、科学、合理的</tspan><tspan x="2145" dy="19.3">护理措施，定期检查产房、新生儿室，针对我</tspan><tspan x="2145" dy="19.3">科特点，将产妇待检项目的时间地点、各种手</tspan><tspan x="2145" dy="19.3">续办理流程，制成卡片张贴在病房。针对我科</tspan><tspan x="2145" dy="19.3">床位紧张的现状，为患者提供住院时间预约登</tspan><tspan x="2145" dy="19.3">记服务。努力将优质的护理服务，落实到每一</tspan><tspan x="2145" dy="19.3">个细节。</tspan></text></g>
<g id="b2n16"><polygon class="no" points="2146,3083 2444,3083 2450,3157.5 2444,3232 2146,3232 2140,3157.5"/>
<text class="to" x="2145" y="3105"><tspan x="2145">为了实现这一目标，我将积极推行医院文化、</tspan><tspan x="2145" dy="19.3">科室文化，倡导好学、上进的思想观念，引导</tspan><tspan x="2145" dy="19.3">姐妹们强化敬业精神、责任心。注重培养护士</tspan><tspan x="2145" dy="19.3">们的学习力和科研能力，支持鼓励护士们外出</tspan><tspan x="2145" dy="19.3">进修，同时利用每天晨会时间进行三基训练，</tspan><tspan x="2145" dy="19.3">总结交流先进经验。还要对新护士进行一对一</tspan><tspan x="2145" dy="19.3">的带教，为我院培养更多的专科人才。</tspan></text></g>
<g id="b2n17"><polygon class="no" points="2146,3266 2444,3266 2450,3321.5 2444,3377 2146,3377 2140,3321.5"/>
<text class="to" x="2145" y="3288"><tspan x="2145">总之，为了实现这一目标，我本着以病人为中</tspan><tspan x="2145" dy="19.3">心的服务理念，在护理工作中不断创新，日益</tspan><tspan x="2145" dy="19.3">进取，提升专科品质，为我院的等级评审工作</tspan><tspan x="2145" dy="19.3">顺利通过，贡献力量！同时，也让新生儿的第</tspan><tspan x="2145" dy="19.3">一声啼哭成为我院最美的交响！</tspan></text></g>

<!-- 篇4 -->
<g id="b4">
<polygon points="1708,3637 1934,3637 1942,3659.5 1934,3682 1708,3682 1700,3659.5" fill="#e0167a"/>
<text class="br" x="1821" y="3666" fill="#ffffff">竞聘上岗演讲稿范文 篇4</text>
</g>
<g id="b4a"><polygon class="nk" points="1958,3460 2140,3460 2146,3475.5 2140,3491 1958,3491 1952,3475.5"/>
<text class="tk" x="1959" y="3481">各位领导、同事们大家好：</text></g>
<g id="b4a1"><polygon class="nk" points="2178,3407 2406,3407 2412,3423.5 2406,3440 2178,3440 2172,3423.5"/>
<text class="tk" x="2179" y="3429">感谢领导们给我这次述职的机会。</text></g>
<g id="b4a2"><polygon class="nk" points="2178,3474 2466,3474 2472,3529.5 2466,3585 2178,3585 2172,3529.5"/>
<text class="tk" x="2177" y="3496"><tspan x="2177">我叫s,今年33岁，中专学历，职称为检验师，</tspan><tspan x="2177" dy="19.3">在检验科工作XX年，本着年轻上进，追求进</tspan><tspan x="2177" dy="19.3">步，想为社会，为医院多做点贡献的原则参</tspan><tspan x="2177" dy="19.3">加这次竞聘。现在这里对我这些年来工作</tspan><tspan x="2177" dy="19.3">，向各级领导做一下汇报。</tspan></text></g>
<g id="b4b"><polygon class="nk" points="1972,4004 2140,4004 2146,4019.5 2140,4035 1972,4035 1966,4019.5"/>
<text class="tk" x="1973" y="4025">一、有较强的敬业精神：</text></g>
<g id="b4b1"><polygon class="nk" points="2166,3614 2454,3614 2460,3679 2454,3744 2166,3744 2160,3679"/>
<text class="tk" x="2165" y="3636"><tspan x="2165">检验工作服务的对象是各种各样的门诊病人、</tspan><tspan x="2165" dy="19.3">健康查体人员，还有住院病人。检验科的检验</tspan><tspan x="2165" dy="19.3">项目比较繁琐，必须要有足够的敬业精神才能</tspan><tspan x="2165" dy="19.3">胜任，10几年来本着对患者负责，提高责任</tspan><tspan x="2165" dy="19.3">心，对工作一丝不苟，认真做好每个检验项目</tspan><tspan x="2165" dy="19.3">，使之准确无误，能更好的配合临床医生确诊。</tspan></text></g>
<g id="b4b2"><polygon class="nk" points="2166,3778 2349,3778 2355,3795 2349,3812 2166,3812 2160,3795"/>
<text class="tk" x="2167" y="3801">二、有较丰富的工作经验。</text></g>
<g id="b4b3"><polygon class="nk" points="2166,3845 2454,3845 2460,3890.5 2454,3936 2166,3936 2160,3890.5"/>
<text class="tk" x="2165" y="3867"><tspan x="2165">十几年来，在工作岗位上，尽量满足病人和临</tspan><tspan x="2165" dy="19.3">床大夫的各种合理要求，与领导和各科室相互</tspan><tspan x="2165" dy="19.3">勤沟通，建立紧密的工作关系。科室内团结协</tspan><tspan x="2165" dy="19.3">作，密切配合，积极向主任献计献策。</tspan></text></g>
<g id="b4b4"><polygon class="nk" points="2166,3969 2454,3969 2460,3995.5 2454,4022 2166,4022 2160,3995.5"/>
<text class="tk" x="2165" y="3991"><tspan x="2165">三、积极参加关于检验的学习活动疑难病例</tspan><tspan x="2165" dy="19.3">讨论，</tspan></text></g>
<g id="b4b5"><polygon class="nk" points="2166,4056 2454,4056 2460,4130.5 2454,4205 2166,4205 2160,4130.5"/>
<text class="tk" x="2165" y="4078"><tspan x="2165">如果我能竞聘成功，我将把检验科的窗口服务</tspan><tspan x="2165" dy="19.3">做的更好，及时解决病人和临床各科室反应的</tspan><tspan x="2165" dy="19.3">问题，与他们建立和谐关系；加强科室工作人</tspan><tspan x="2165" dy="19.3">员的学习，跟上时代步伐，提高整个检验科的</tspan><tspan x="2165" dy="19.3">综合素质和业务水平，加强凝聚力，更好的为</tspan><tspan x="2165" dy="19.3">医院做贡献；开展新项目；改进试验方法，节</tspan><tspan x="2165" dy="19.3">约成本；带领和帮助同志们审报新课题。</tspan></text></g>
<g id="b4b6"><polygon class="nk" points="2166,4237 2454,4237 2460,4273 2454,4309 2166,4309 2160,4273"/>
<text class="tk" x="2165" y="4259"><tspan x="2165">如果我竞聘不成功，我也会一如既往地勤奋工</tspan><tspan x="2165" dy="19.3">作，在本职岗位上做一名合格检验人员，寻找</tspan><tspan x="2165" dy="19.3">差距，继续努力。</tspan></text></g>
<g id="b4b7"><polygon class="nk" points="2166,4341 2244,4341 2250,4358 2244,4375 2166,4375 2160,4358"/>
<text class="tk" x="2167" y="4364">谢谢大家！</text></g>
</g>
</svg>
